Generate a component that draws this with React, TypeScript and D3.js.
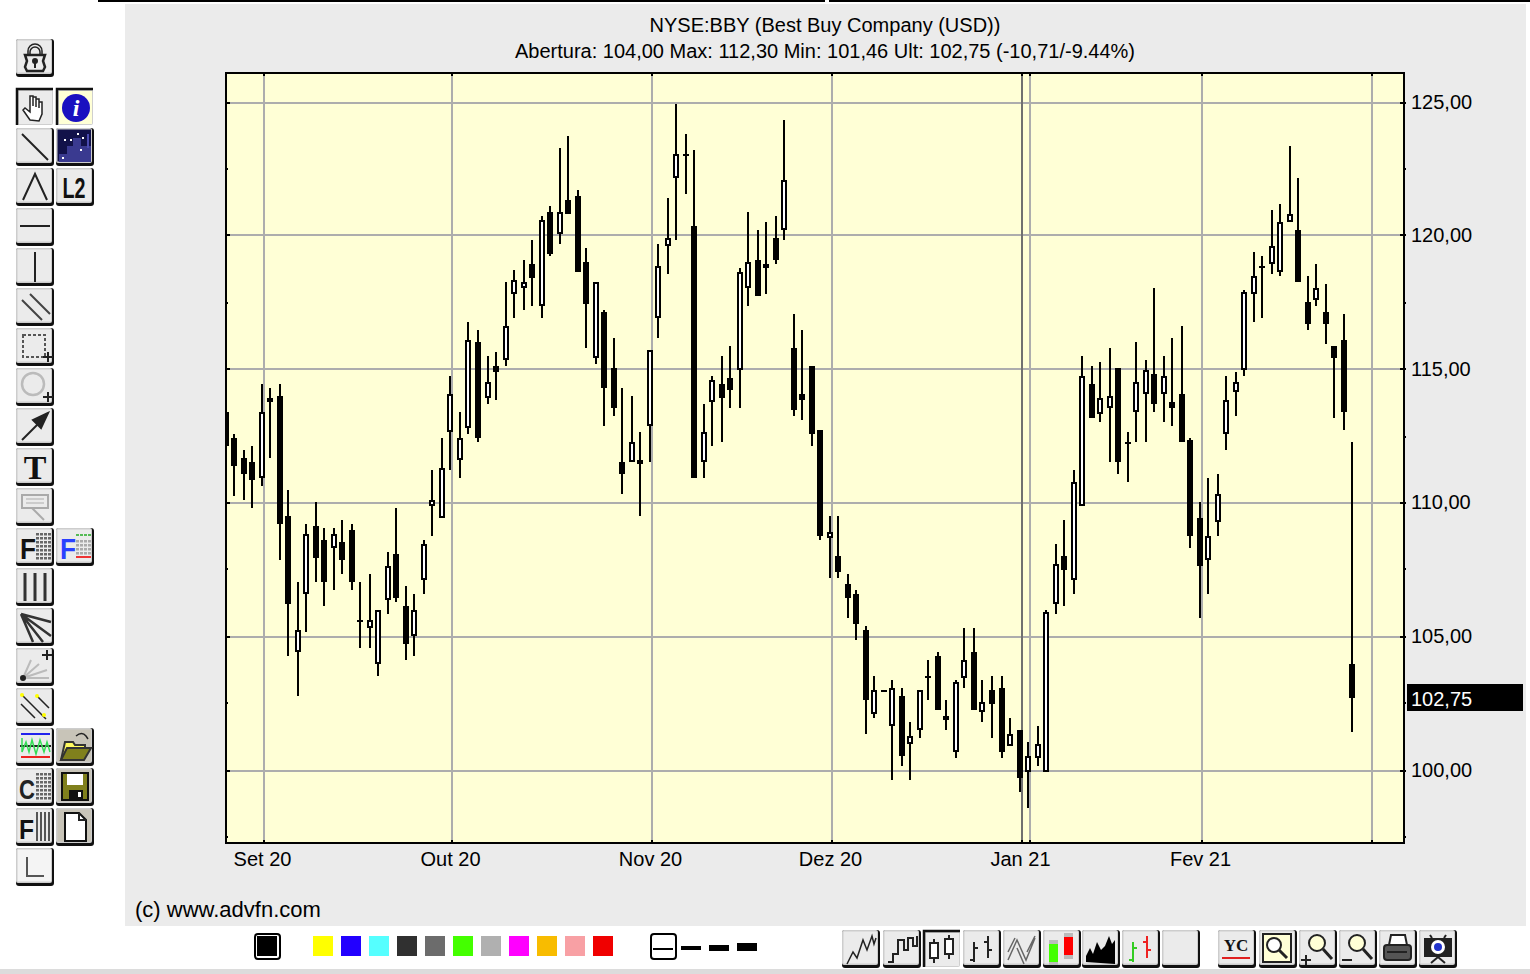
import React, { useEffect, useRef } from "react";
import * as d3 from "d3";

// Daily prices
const opens = [
  113.44,112.46,111.72,111.57,110.97,113.96,114.04,109.54,104.45,106.62,
  109.17,108.65,108.35,108.57,109.02,105.65,105.35,104.00,106.40,108.12,
  106.18,105.05,107.15,109.92,109.47,112.69,111.64,112.84,116.06,113.96,
  115.16,115.38,117.85,118.08,118.98,117.40,120.92,120.10,121.37,121.52,
  119.05,115.46,117.18,115.08,111.57,111.57,111.64,112.91,116.96,119.65,
  122.20,123.09,120.40,111.57,113.81,114.49,114.71,115.01,118.08,119.13,
  118.98,119.95,120.25,115.83,114.11,115.16,112.76,108.72,108.05,107.00,
  106.62,105.28,102.13,103.03,101.68,102.81,101.01,101.53,103.56,104.30,
  102.06,100.71,103.48,104.45,102.21,103.03,103.11,100.94,101.53,99.96,
  100.49,99.96,106.25,108.05,107.15,109.92,114.49,113.36,113.59,115.08,
  112.31,113.44,114.11,114.86,114.11,113.81,114.11,112.39,109.47,107.90,
  109.32,112.61,114.19,115.01,117.85,118.90,118.98,118.68,120.55,120.25,
  117.55,117.63,117.18,115.91,116.13,104.00,
];
const highs = [
  113.44,112.58,111.98,112.20,114.45,114.30,114.45,110.48,107.04,109.28,
  110.03,109.06,109.13,109.43,109.28,107.11,107.41,106.03,108.23,109.81,
  106.89,106.66,108.61,111.23,112.43,114.75,113.47,116.77,116.47,115.50,
  115.65,118.27,118.72,119.16,119.91,120.74,121.11,123.28,123.73,121.78,
  119.61,118.30,117.22,116.17,114.30,114.00,112.65,115.76,119.76,121.41,
  124.93,123.81,123.21,113.70,114.82,115.50,115.87,118.86,120.89,120.21,
  120.51,120.74,124.33,117.07,116.47,115.16,112.76,109.51,109.51,107.41,
  106.74,105.46,103.52,103.03,103.44,103.07,101.80,103.03,104.12,104.49,
  102.69,103.37,105.32,105.32,103.44,103.52,103.52,101.95,101.53,101.12,
  101.65,106.06,108.46,109.43,111.23,115.50,115.12,115.27,115.80,115.08,
  112.65,116.02,115.35,118.04,115.50,116.24,116.62,112.43,110.03,110.93,
  111.15,114.75,114.90,117.97,119.39,119.31,120.96,121.19,123.36,122.23,
  118.49,119.01,118.19,115.91,117.14,112.30,
];
const lows = [
  112.16,110.26,110.11,109.88,110.63,111.68,107.86,104.34,102.84,105.17,
  107.11,106.21,106.74,107.41,106.81,104.57,104.64,103.52,105.91,106.36,
  104.12,104.27,106.66,108.83,109.47,111.30,111.00,112.58,112.28,113.77,
  113.92,115.12,116.92,117.22,117.44,116.92,119.31,119.76,120.81,118.64,
  115.80,115.20,112.88,113.32,110.33,111.57,109.58,111.53,116.17,118.57,
  119.91,121.63,110.93,111.00,112.13,112.35,113.55,113.62,117.37,117.74,
  117.82,119.01,119.91,113.25,113.10,112.13,108.61,107.19,107.19,105.69,
  104.87,101.42,102.02,102.96,99.63,100.22,99.63,101.20,102.62,102.25,
  101.50,100.52,103.14,102.28,101.80,101.20,100.45,100.94,99.25,98.65,
  100.15,99.96,105.91,106.14,106.59,109.92,113.18,113.03,111.60,111.15,
  110.78,112.28,112.35,113.47,113.03,112.88,112.28,108.38,105.69,106.66,
  108.83,112.05,113.32,114.82,116.77,116.99,118.57,118.49,120.51,118.27,
  116.47,117.44,115.95,113.18,112.73,101.46,
];
const closes = [
  112.16,111.42,111.12,110.89,113.44,113.81,109.25,106.25,105.28,108.87,
  107.97,107.07,108.87,107.90,107.07,105.58,105.65,106.03,107.67,106.48,
  104.75,106.03,108.50,110.14,111.34,114.11,112.46,116.13,112.46,114.56,
  114.93,116.66,118.38,118.30,118.45,120.62,119.35,120.92,120.85,118.68,
  117.48,118.30,114.34,113.59,111.12,112.31,111.49,115.76,118.90,119.95,
  123.09,123.02,110.97,112.69,114.63,113.96,114.26,118.68,119.05,117.78,
  118.83,119.13,122.12,113.51,113.89,112.61,108.80,108.95,107.45,106.48,
  105.50,102.66,103.03,102.96,103.11,100.56,101.31,103.03,103.48,102.28,
  101.91,103.33,104.15,102.28,102.58,102.51,100.71,101.38,99.74,100.56,
  101.01,105.95,107.75,107.52,110.82,114.78,113.21,113.96,114.04,111.57,
  112.24,114.56,115.01,113.74,114.78,113.59,112.31,108.80,107.67,108.80,
  110.37,113.89,114.56,117.93,118.53,118.83,119.65,120.55,120.85,118.30,
  116.73,118.08,116.73,115.46,113.44,102.75,
];

// Month starts, in trading-day positions
const monthPositions = [4.2, 25.1, 47.3, 67.2, 88.25, 108.3];
const monthLabels = ["Set 20", "Out 20", "Nov 20", "Dez 20", "Jan 21", "Fev 21"];
const extraPositions = [89.2, 127.15];
const priceTicks = [100, 105, 110, 115, 120, 125];
const minorPriceTicks = [97.5, 102.5, 107.5, 112.5, 117.5, 122.5];
const lastPrice = 102.75;

const titleLine = "NYSE:BBY (Best Buy Company (USD))";
const infoLine = "Abertura: 104,00 Max: 112,30 Min: 101,46 Ult: 102,75 (-10,71/-9.44%)";

const swatches = ["#ffff00", "#2200ff", "#55ffff", "#303030", "#6c6c6c", "#44ff00", "#b0b0b0", "#ff00ff", "#f8bc00", "#f8a0a4", "#f00000"];

const FONT = "'Liberation Sans', Arial, sans-serif";
const plot = { left: 226, right: 1404, top: 73, bottom: 843 };
const priceFmt = (v: number) => v.toFixed(2).replace(".", ",");

const Chart = () => {
  const ref = useRef<SVGGElement | null>(null);

  useEffect(() => {
    const g = d3.select(ref.current);
    g.selectAll("*").remove();

    const x = d3.scaleLinear().domain([0, 125]).range([226.48, 1353.73]);
    const y = d3.scaleLinear().domain([100, 125]).range([771, 103]);
    const snapX = (i: number) => Math.floor(x(i) / 2) * 2;
    const evenY = (p: number) => Math.round(y(p) / 2) * 2;
    const gridTop = (p: number) => Math.floor((y(p) - 1) / 2) * 2;

    g.append("clipPath").attr("id", "plot-clip").append("rect")
      .attr("x", plot.left).attr("y", plot.top)
      .attr("width", plot.right - plot.left).attr("height", plot.bottom - plot.top);

    g.append("rect")
      .attr("x", plot.left).attr("y", plot.top)
      .attr("width", plot.right - plot.left).attr("height", plot.bottom - plot.top)
      .attr("fill", "#ffffd6");

    // grid
    g.selectAll(".hgrid").data(priceTicks).enter().append("rect")
      .attr("x", plot.left).attr("y", gridTop)
      .attr("width", plot.right - plot.left).attr("height", 2).attr("fill", "#adadad");
    g.selectAll(".vgrid").data([...monthPositions, ...extraPositions]).enter().append("rect")
      .attr("x", (d) => snapX(d) - 1).attr("y", plot.top)
      .attr("width", 2).attr("height", plot.bottom - plot.top)
      .attr("fill", (d) => (d === 88.25 ? "#707070" : "#adadad"));

    // candles
    const candles = g.append("g").attr("clip-path", "url(#plot-clip)").attr("shape-rendering", "crispEdges");
    const rows = candles.selectAll("g").data(d3.range(opens.length)).enter().append("g");
    rows.append("rect")
      .attr("x", (i) => snapX(i) - 1).attr("width", 2)
      .attr("y", (i) => evenY(highs[i]))
      .attr("height", (i) => evenY(lows[i]) - evenY(highs[i]))
      .attr("fill", "#000");
    rows.append("rect")
      .attr("x", (i) => snapX(i) - 3).attr("width", 6)
      .attr("y", (i) => evenY(Math.max(opens[i], closes[i])))
      .attr("height", (i) => Math.max(2, evenY(Math.min(opens[i], closes[i])) - evenY(Math.max(opens[i], closes[i]))))
      .attr("fill", "#000");
    rows.filter((i) => closes[i] > opens[i]).append("rect")
      .attr("x", (i) => snapX(i) - 1).attr("width", 2)
      .attr("y", (i) => evenY(closes[i]) + 2)
      .attr("height", (i) => Math.max(0, evenY(opens[i]) - evenY(closes[i]) - 4))
      .attr("fill", "#fff");

    // frame and tick marks
    g.append("rect")
      .attr("x", plot.left).attr("y", plot.top)
      .attr("width", plot.right - plot.left).attr("height", plot.bottom - plot.top)
      .attr("fill", "none").attr("stroke", "#000").attr("stroke-width", 2);
    g.selectAll(".majorR").data(priceTicks).enter().append("rect")
      .attr("x", plot.right - 4).attr("y", gridTop).attr("width", 6).attr("height", 2).attr("fill", "#000");
    g.selectAll(".minorR").data(minorPriceTicks).enter().append("rect")
      .attr("x", plot.right).attr("y", gridTop).attr("width", 2).attr("height", 2).attr("fill", "#000");
    g.selectAll(".majorL").data(priceTicks).enter().append("rect")
      .attr("x", plot.left).attr("y", gridTop).attr("width", 4).attr("height", 2).attr("fill", "#000");
    g.selectAll(".minorL").data(minorPriceTicks).enter().append("rect")
      .attr("x", plot.left).attr("y", gridTop).attr("width", 2).attr("height", 2).attr("fill", "#000");
    g.selectAll(".tickT").data([...monthPositions, ...extraPositions]).enter().append("rect")
      .attr("x", (d) => snapX(d) - 1).attr("y", plot.top).attr("width", 2).attr("height", 3).attr("fill", "#000");
    g.selectAll(".tickB").data([...monthPositions, ...extraPositions]).enter().append("rect")
      .attr("x", (d) => snapX(d) - 1).attr("y", plot.bottom - 3).attr("width", 2).attr("height", 3).attr("fill", "#000");

    // axis labels
    g.selectAll(".ylab").data(priceTicks).enter().append("text")
      .attr("x", 1411).attr("y", (d) => y(d) + 5.5)
      .attr("font-family", FONT).attr("font-size", 20).attr("fill", "#000")
      .text(priceFmt);
    g.selectAll(".xlab").data(monthPositions).enter().append("text")
      .attr("x", (d) => snapX(d) - 1.5).attr("y", 866)
      .attr("text-anchor", "middle")
      .attr("font-family", FONT).attr("font-size", 20).attr("fill", "#000")
      .text((_, i) => monthLabels[i]);

    // last price flag
    g.append("rect").attr("x", 1407).attr("y", 684).attr("width", 116).attr("height", 27).attr("fill", "#000");
    g.append("text").attr("x", 1411).attr("y", y(lastPrice) + 8.5)
      .attr("font-family", FONT).attr("font-size", 20).attr("fill", "#fff")
      .text(priceFmt(lastPrice));
  }, []);

  return <g ref={ref} />;
};

// toolbar button, drawn with a raised or pressed edge
const Btn = ({ x, y, w = 38, h = 38, down = false, bg = "#ebebeb", children }: any) => (
  <g transform={`translate(${x},${y})`}>
    {down ? (
      <>
        <rect x={0} y={0} width={w - 1} height={h - 1} rx={2} fill="#cfcfcf" />
        <path d={`M1 ${h - 1}V1H${w - 1}`} fill="none" stroke="#111" strokeWidth={2.5} />
        <rect x={3} y={3} width={w - 5} height={h - 5} fill={bg} />
      </>
    ) : (
      <>
        <rect x={0} y={0} width={w} height={h} rx={3} fill="#111" />
        <rect x={0} y={0} width={w - 2} height={h - 3} rx={2} fill="#cdcdcd" />
        <rect x={1.5} y={1.5} width={w - 4.5} height={h - 6} fill={bg} />
      </>
    )}
    <g fill="none" stroke="#222" strokeWidth={2}>{children}</g>
  </g>
);

const Dots = ({ x, y, cols, rows, color = "#666" }: any) => (
  <g fill={color} stroke="none">
    {d3.range(cols).flatMap((c) => d3.range(rows).map((r) => (
      <rect key={`${c}-${r}`} x={x + c * 4} y={y + r * 4} width={3} height={2.5} />
    )))}
  </g>
);

const LeftBar = () => {
  const rowY = (n: number) => 88 + n * 40;
  return (
    <g>
      <Btn x={16} y={39}>
        <path d="M12 16v-4a7 7 0 0 1 14 0v4M14 16v-3a5 5 0 0 1 10 0v3" strokeWidth={1.5} />
        <path d="M9 16h20l-2 6 2 6-2 4H11l-2-4 2-6z" strokeWidth={2.5} />
        <circle cx={19} cy={22} r={2} fill="#222" />
        <path d="M19 23v6" />
      </Btn>
      <Btn x={16} y={rowY(0)} down>
        <path d="M14 32l-7-10 2-2 5 4V8h3v10-9h3v10-8h3v9-6h3v12l-3 7z" fill="#fff" strokeWidth={1.5} />
      </Btn>
      <Btn x={56} y={rowY(0)} down bg="#ffffd6">
        <circle cx={20} cy={20} r={14} fill="#1a10c0" stroke="none" />
        <text x={20} y={28} textAnchor="middle" fontFamily="'Liberation Serif', serif" fontStyle="italic" fontWeight="bold" fontSize={24} fill="#fff" stroke="none">i</text>
      </Btn>
      <Btn x={16} y={rowY(1)}><path d="M6 6l26 26" /></Btn>
      <Btn x={56} y={rowY(1)} bg="#12124a">
        <path d="M3 34V26h8v-8h6v-8h8v8h10v16z" fill="#3a3a90" stroke="none" />
        <path d="M8 12h2M14 12h2M21 6h2M26 10h2M6 30h2M24 22h2" stroke="#fff" />
        <path d="M32 6v14" stroke="#4a4ab0" />
      </Btn>
      <Btn x={16} y={rowY(2)}><path d="M7 32L19 6l12 26" /></Btn>
      <Btn x={56} y={rowY(2)}>
        <text x={18} y={30} textAnchor="middle" fontFamily="'Liberation Sans', sans-serif" fontWeight="bold" fontSize={29} fill="#111" stroke="none" textLength={23} lengthAdjust="spacingAndGlyphs">L2</text>
      </Btn>
      <Btn x={16} y={rowY(3)}><path d="M4 18h30" /></Btn>
      <Btn x={16} y={rowY(4)}><path d="M19 4v30" /></Btn>
      <Btn x={16} y={rowY(5)}><path d="M6 12l20 20M14 6l20 20" stroke="#444" /></Btn>
      <Btn x={16} y={rowY(6)}>
        <rect x={7} y={7} width={22} height={22} strokeDasharray="3 2" stroke="#555" />
        <path d="M32 24v10M27 29h10" />
      </Btn>
      <Btn x={16} y={rowY(7)}>
        <circle cx={17} cy={16} r={11} stroke="#bbb" strokeWidth={2.5} />
        <path d="M32 24v10M27 29h10" />
      </Btn>
      <Btn x={16} y={rowY(8)}>
        <path d="M6 32l20-20" />
        <path d="M32 5L17 12l8 8z" fill="#222" />
      </Btn>
      <Btn x={16} y={rowY(9)}>
        <text x={19} y={31} textAnchor="middle" fontFamily="'Liberation Serif', serif" fontWeight="bold" fontSize={34} fill="#111" stroke="none">T</text>
      </Btn>
      <Btn x={16} y={rowY(10)}>
        <rect x={6} y={7} width={26} height={13} stroke="#aaa" />
        <path d="M10 11h18M10 15h18" stroke="#ccc" />
        <path d="M16 20l12 12" stroke="#aaa" />
      </Btn>
      <Btn x={16} y={rowY(11)}>
        <text x={4} y={31} fontFamily={FONT} fontWeight="bold" fontSize={30} fill="#111" stroke="none" textLength={16} lengthAdjust="spacingAndGlyphs">F</text>
        <Dots x={20} y={5} cols={4} rows={7} />
      </Btn>
      <Btn x={56} y={rowY(11)}>
        <text x={4} y={31} fontFamily={FONT} fontWeight="bold" fontSize={30} fill="#2a40ff" stroke="none" textLength={16} lengthAdjust="spacingAndGlyphs">F</text>
        <Dots x={20} y={12} cols={4} rows={4} color="#aaa" />
        <path d="M20 7h15" stroke="#55bb55" strokeDasharray="3 1" />
        <path d="M20 29h15" stroke="#ee3333" />
      </Btn>
      <Btn x={16} y={rowY(12)}><path d="M9 5v28M19 5v28M29 5v28" strokeWidth={3} stroke="#333" /></Btn>
      <Btn x={16} y={rowY(13)}><path d="M5 6l12 28M5 6l22 28M5 6l30 22M5 6l30 8" strokeWidth={2.5} stroke="#333" /></Btn>
      <Btn x={16} y={rowY(14)}>
        <path d="M7 30l8-18M7 30l16-14M7 30l24-8M7 30h26" stroke="#bbb" />
        <circle cx={7} cy={30} r={2} fill="#222" />
        <path d="M31 2v10M26 7h10" />
      </Btn>
      <Btn x={16} y={rowY(15)}>
        <path d="M6 7l24 24M21 8l12 12M5 16l14 14" strokeWidth={1.5} />
        <circle cx={6} cy={7} r={2} fill="#ff0" stroke="none" />
        <circle cx={21} cy={8} r={2} fill="#ff0" stroke="none" />
        <circle cx={28} cy={27} r={2} fill="#ff0" stroke="none" />
      </Btn>
      <Btn x={16} y={rowY(16)}>
        <path d="M5 6h29" stroke="#2222ee" />
        <path d="M5 29h29" stroke="#ee2222" />
        <path d="M4 18h31" stroke="#222" />
        <path d="M6 10v14l4-10 3 10 3-12 4 14 4-14 4 12 3-10 3 10" stroke="#33dd55" strokeWidth={1.5} />
      </Btn>
      <Btn x={56} y={rowY(16)} bg="#c8c4b8">
        <path d="M5 32L9 14h8l2 3h10v4" fill="#fffa60" stroke="#333" />
        <path d="M5 32l6-12h24l-7 12z" fill="#80801c" stroke="#333" />
        <path d="M20 8q6-5 10 0l2 3" strokeWidth={1.5} />
      </Btn>
      <Btn x={16} y={rowY(17)}>
        <text x={3} y={31} fontFamily={FONT} fontWeight="bold" fontSize={28} fill="#222" stroke="none" textLength={16} lengthAdjust="spacingAndGlyphs">C</text>
        <Dots x={20} y={5} cols={4} rows={7} />
      </Btn>
      <Btn x={56} y={rowY(17)} bg="#c8c4b8">
        <rect x={6} y={5} width={26} height={27} fill="#80801c" stroke="#111" />
        <rect x={11} y={6} width={16} height={11} fill="#fff" stroke="none" />
        <rect x={13} y={22} width={14} height={9} fill="#111" stroke="none" />
        <rect x={22} y={24} width={3} height={5} fill="#fff" stroke="none" />
      </Btn>
      <Btn x={16} y={rowY(18)}>
        <text x={3} y={31} fontFamily={FONT} fontWeight="bold" fontSize={28} fill="#111" stroke="none" textLength={15} lengthAdjust="spacingAndGlyphs">F</text>
        <path d="M21 4v29M25 4v29M29 4v29M33 4v29" stroke="#555" />
      </Btn>
      <Btn x={56} y={rowY(18)} bg="#c8c4b8">
        <path d="M9 5h14l7 7v21H9z" fill="#fff" stroke="#111" />
        <path d="M23 5v7h7" />
      </Btn>
      <Btn x={16} y={rowY(19)} bg="#f4f4f4"><path d="M11 9v19h17" stroke="#555" /></Btn>
    </g>
  );
};

const BottomBar = () => {
  const y = 930;
  return (
    <g>
      <rect x={255} y={934} width={25} height={25} rx={3} fill="#fff" stroke="#000" strokeWidth={2} />
      <rect x={257} y={936} width={20} height={20} fill="#000" />
      {swatches.map((c, i) => <rect key={c} x={313 + i * 28} y={936} width={20} height={20} fill={c} />)}
      <rect x={651} y={934} width={25} height={25} rx={3} fill="#fff" stroke="#000" strokeWidth={2} />
      <rect x={653} y={948} width={20} height={2} fill="#000" />
      <rect x={681} y={946} width={20} height={4} fill="#000" />
      <rect x={709} y={945} width={20} height={6} fill="#000" />
      <rect x={737} y={943} width={20} height={8} fill="#000" />

      <Btn x={842} y={y}><path d="M5 34l6-12 4 6 6-18 4 10 5-14 2 8 2-6" strokeWidth={1.5} /></Btn>
      <Btn x={883} y={y}><path d="M5 32h5v-8h5V10h6v10h4V8h5v8h4V6" /></Btn>
      <Btn x={923} y={y} down>
        <path d="M11 9v24M26 5v24" />
        <rect x={7} y={13} width={8} height={15} fill="#fff" />
        <rect x={22} y={9} width={8} height={15} fill="#fff" />
      </Btn>
      <Btn x={963} y={y}><path d="M11 12v20M7 30h4M11 18h4M25 6v22M21 12h4M25 20h4" /></Btn>
      <Btn x={1003} y={y}>
        <path d="M5 30l9-20 9 20 9-22M5 22l7-14M14 18l7 16M24 22l8-16" stroke="#666" strokeWidth={1.5} />
      </Btn>
      <Btn x={1043} y={y}>
        <rect x={6} y={10} width={9} height={25} fill="#bbb" stroke="none" />
        <rect x={6} y={14} width={9} height={18} fill="#44ff00" stroke="none" />
        <rect x={21} y={3} width={9} height={26} fill="#bbb" stroke="none" />
        <rect x={21} y={7} width={9} height={18} fill="#ff0000" stroke="none" />
      </Btn>
      <Btn x={1082} y={y}><path d="M4 32V26l4-8 3 6 4-12 4 8 4-4 4-10 3 8 3-4v24z" fill="#000" stroke="none" /></Btn>
      <Btn x={1122} y={y}>
        <path d="M11 12v20M7 30h4M11 18h4" stroke="#33cc22" />
        <path d="M25 6v22M21 12h4M25 20h4" stroke="#ee2222" />
      </Btn>
      <Btn x={1162} y={y} />
      <Btn x={1218} y={y}>
        <text x={18} y={21} textAnchor="middle" fontFamily="'Liberation Serif', serif" fontWeight="bold" fontSize={17} fill="#111" stroke="none">YC</text>
        <path d="M4 28h28" stroke="#e02020" />
      </Btn>
      <Btn x={1259} y={y}>
        <rect x={4} y={4} width={28} height={28} fill="#ffffd6" />
        <circle cx={15} cy={15} r={7} fill="#fff" />
        <path d="M20 20l8 8" strokeWidth={3} />
      </Btn>
      <Btn x={1299} y={y}>
        <circle cx={18} cy={13} r={8} fill="#ffffd6" />
        <path d="M24 19l9 10" strokeWidth={3} />
        <path d="M7 25v10M2 30h10" />
      </Btn>
      <Btn x={1339} y={y}>
        <circle cx={18} cy={13} r={8} fill="#ffffd6" />
        <path d="M24 19l9 10" strokeWidth={3} />
        <path d="M3 30h10" />
      </Btn>
      <Btn x={1379} y={y}>
        <path d="M12 5h14l2 10H10z" fill="#fff" />
        <rect x={5} y={15} width={27} height={15} rx={3} fill="#555" />
        <path d="M8 22h20" stroke="#222" />
      </Btn>
      <Btn x={1419} y={y}>
        <rect x={5} y={8} width={28} height={19} fill="#222" stroke="none" />
        <circle cx={19} cy={17} r={7} fill="#fff" stroke="none" />
        <circle cx={19} cy={17} r={4} fill="#2233cc" stroke="none" />
        <path d="M12 33l7-6 7 6M11 5l2 3M27 5l-2 3" />
      </Btn>
    </g>
  );
};

export default function App() {
  return (
    <svg width={1530} height={974} style={{ position: "absolute", left: 0, top: 0, background: "#fff" }}>
      <rect x={125} y={4} width={1401} height={922} fill="#ebebeb" />
      <rect x={98} y={0} width={727} height={2} fill="#000" />
      <rect x={829} y={0} width={701} height={2} fill="#000" />
      <rect x={0} y={969} width={1530} height={5} fill="#dcdcdc" />

      <text x={825} y={32} textAnchor="middle" fontFamily={FONT} fontSize={20} fill="#000">{titleLine}</text>
      <text x={825} y={58} textAnchor="middle" fontFamily={FONT} fontSize={20} fill="#000">{infoLine}</text>

      <Chart />

      <text x={135} y={917} fontFamily={FONT} fontSize={22} fill="#000">(c) www.advfn.com</text>

      <LeftBar />
      <BottomBar />
    </svg>
  );
}
